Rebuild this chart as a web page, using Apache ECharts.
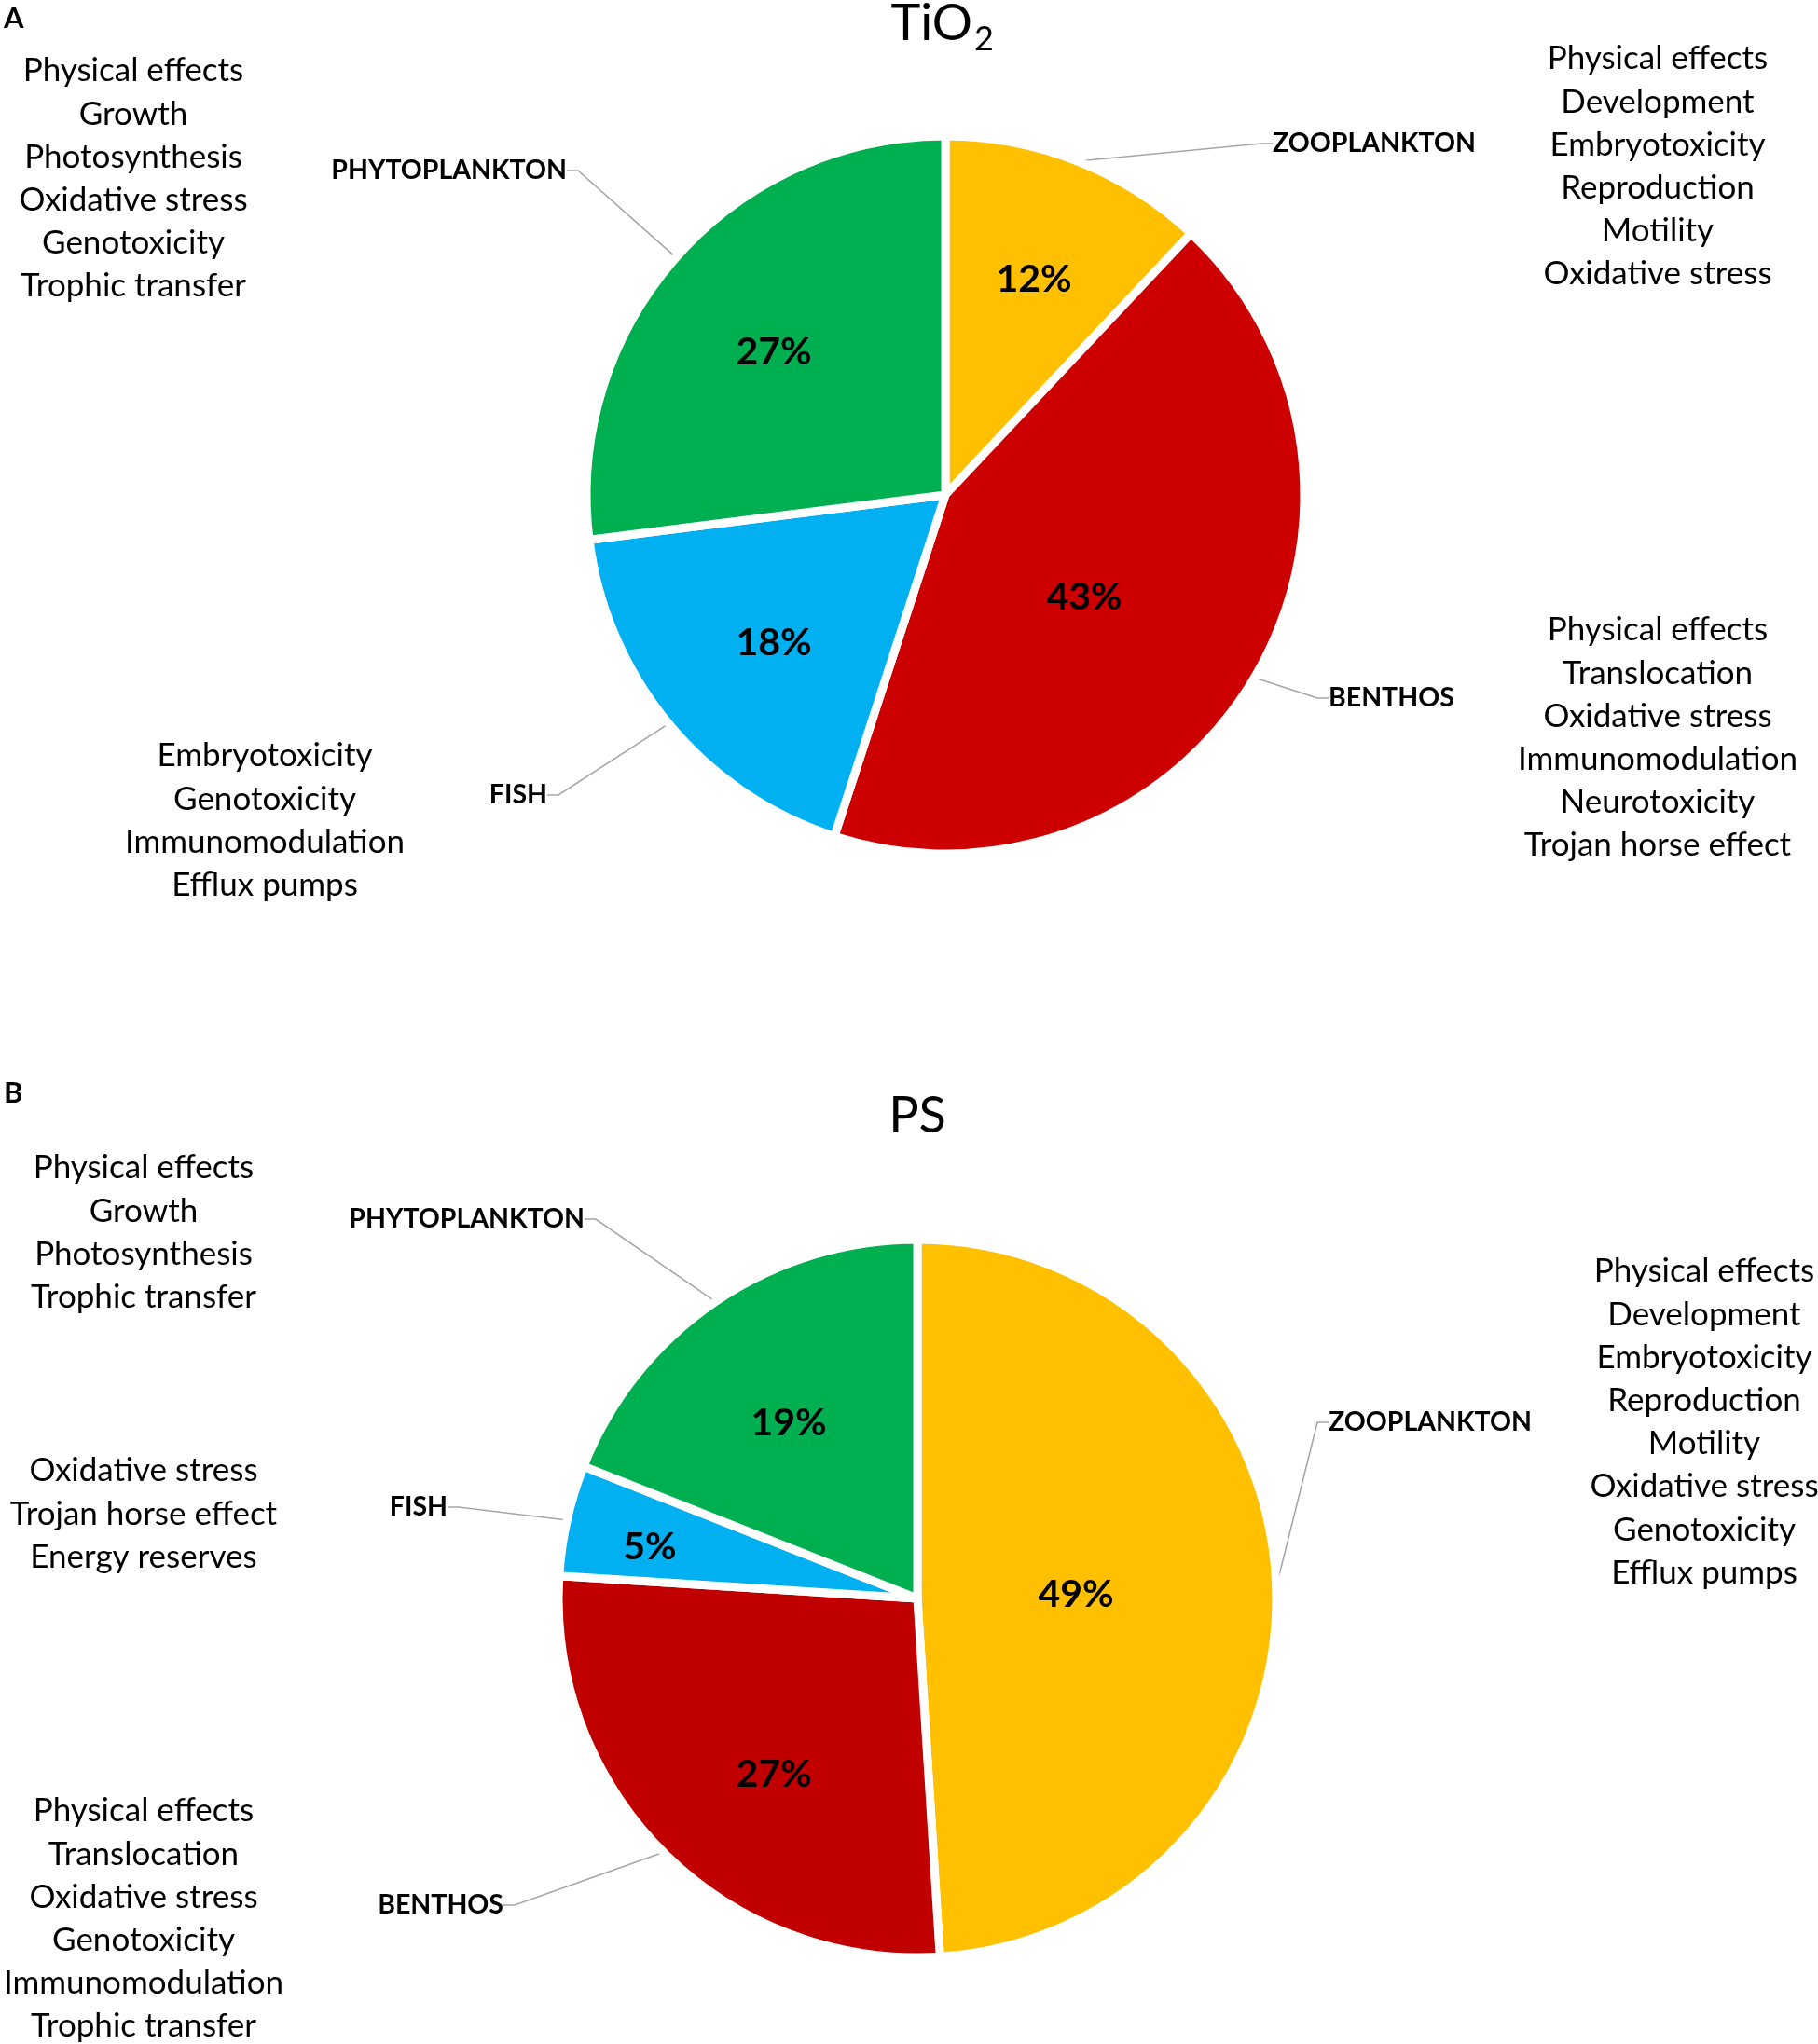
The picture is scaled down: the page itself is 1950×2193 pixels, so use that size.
<!DOCTYPE html>
<html>
<head>
<meta charset="utf-8">
<script src="https://cdn.jsdelivr.net/npm/echarts@6/dist/echarts.min.js"></script>
<style>
  html, body { margin: 0; padding: 0; background: #fff; }
  #chartmain { width: 1950px; height: 2193px; }
</style>
</head>
<body>
<div id="chartmain"></div>
<script>
// categories, same order for both panels (clockwise from 12 o'clock)
var cate = ['ZOOPLANKTON', 'BENTHOS', 'FISH', 'PHYTOPLANKTON'];
var tio2Values = [12, 43, 18, 27];
var psValues = [49, 27, 5, 19];

// effect lists
var tio2Phyto = ['Physical effects', 'Growth', 'Photosynthesis', 'Oxidative stress', 'Genotoxicity', 'Trophic transfer'];
var tio2Zoo = ['Physical effects', 'Development', 'Embryotoxicity', 'Reproduction', 'Motility', 'Oxidative stress'];
var tio2Benthos = ['Physical effects', 'Translocation', 'Oxidative stress', 'Immunomodulation', 'Neurotoxicity', 'Trojan horse effect'];
var tio2Fish = ['Embryotoxicity', 'Genotoxicity', 'Immunomodulation', 'Efflux pumps'];
var psPhyto = ['Physical effects', 'Growth', 'Photosynthesis', 'Trophic transfer'];
var psFish = ['Oxidative stress', 'Trojan horse effect', 'Energy reserves'];
var psBenthos = ['Physical effects', 'Translocation', 'Oxidative stress', 'Genotoxicity', 'Immunomodulation', 'Trophic transfer'];
var psZoo = ['Physical effects', 'Development', 'Embryotoxicity', 'Reproduction', 'Motility', 'Oxidative stress', 'Genotoxicity', 'Efflux pumps'];

var colorsA = ['#FFC000', '#CC0000', '#00B0F0', '#00B050'];
var colorsB = ['#FFC000', '#C00000', '#00B0F0', '#00B050'];

var FONT = 'Lato, "Open Sans", sans-serif';

// label placement (pixels): name labels and percent labels
var nameLblA = [[1365, 154, 'left'], [1425, 749, 'left'], [587, 853, 'right'], [608, 183, 'right']];
var nameLblB = [[1425, 1526, 'left'], [540, 2044, 'right'], [480, 1617, 'right'], [627, 1308, 'right']];
var pctLblA = [[1109, 300], [1163, 641], [830, 690], [830, 378]];
var pctLblB = [[1154, 1711], [830, 1904], [697, 1660], [846, 1527]];

function mkData(vals, colors) {
  var d = [];
  for (var i = 0; i < cate.length; i++) {
    d.push({ name: cate[i], value: vals[i], itemStyle: { color: colors[i] } });
  }
  return d;
}

function nameData(vals) {
  var d = [];
  for (var i = 0; i < cate.length; i++) d.push({ name: cate[i], value: vals[i] });
  return d;
}

function pieSeries(vals, colors, center, pct) {
  return {
    type: 'pie',
    center: center,
    radius: 385,
    startAngle: 90,
    clockwise: true,
    silent: true,
    animation: false,
    itemStyle: { borderColor: '#fff', borderWidth: 9 },
    label: {
      show: true,
      position: 'inside',
      formatter: '{c}%',
      color: '#000',
      fontFamily: FONT,
      fontWeight: 'bold',
      fontSize: 41
    },
    labelLayout: function (p) {
      var q = pct[p.dataIndex];
      return { x: q[0], y: q[1], align: 'center', verticalAlign: 'middle' };
    },
    data: mkData(vals, colors)
  };
}

function nameSeries(vals, center, pos) {
  return {
    type: 'pie',
    center: center,
    radius: 385,
    startAngle: 90,
    clockwise: true,
    silent: true,
    animation: false,
    avoidLabelOverlap: false,
    itemStyle: { color: 'rgba(0,0,0,0)', borderWidth: 0 },
    label: {
      show: true,
      position: 'outside',
      formatter: '{b}',
      color: '#000',
      fontFamily: FONT,
      fontWeight: 'bold',
      fontSize: 28.5
    },
    labelLine: {
      show: true,
      length: 20,
      length2: 12,
      minTurnAngle: 0,
      maxSurfaceAngle: 180,
      lineStyle: { color: '#A6A6A6', width: 1.6 }
    },
    labelLayout: function (p) {
      var q = pos[p.dataIndex];
      return { x: q[0], y: q[1], align: q[2], verticalAlign: 'middle' };
    },
    data: nameData(vals)
  };
}

function listText(lines, cx, firstY) {
  return {
    type: 'text',
    x: cx,
    y: firstY - 23,
    silent: true,
    style: {
      text: lines.join('\n'),
      textAlign: 'center',
      textVerticalAlign: 'top',
      lineHeight: 46.2,
      font: '35px ' + FONT,
      fill: '#000'
    }
  };
}

function plainText(txt, x, y, size, weight, align) {
  return {
    type: 'text',
    x: x, y: y,
    silent: true,
    style: {
      text: txt,
      textAlign: align || 'left',
      textVerticalAlign: 'middle',
      font: (weight || 'normal') + ' ' + size + 'px ' + FONT,
      fill: '#000'
    }
  };
}

var graphics = [
  plainText('A', 4, 20, 31, 'bold'),
  plainText('B', 4, 1173, 31, 'bold'),
  plainText('TiO', 1043, 26, 54, 'normal', 'right'),
  plainText('2', 1045, 42, 36, 'normal', 'left'),
  plainText('PS', 984, 1198, 54, 'normal', 'center'),
  // effect lists, centred multi-line text
  listText(tio2Phyto, 143, 76),
  listText(tio2Zoo, 1778, 63),
  listText(tio2Benthos, 1778, 676),
  listText(tio2Fish, 284, 811),
  listText(psPhyto, 154, 1253),
  listText(psFish, 154, 1578),
  listText(psBenthos, 154, 1943),
  listText(psZoo, 1828, 1364)
];

var option = {
  backgroundColor: '#fff',
  animation: false,
  series: [
    pieSeries(tio2Values, colorsA, [1014, 531], pctLblA),
    nameSeries(tio2Values, [1014, 531], nameLblA),
    pieSeries(psValues, colorsB, [984, 1715], pctLblB),
    nameSeries(psValues, [984, 1715], nameLblB)
  ],
  graphic: graphics
};

var myChart = echarts.init(document.getElementById('chartmain'));
myChart.setOption(option);
</script>
</body>
</html>
